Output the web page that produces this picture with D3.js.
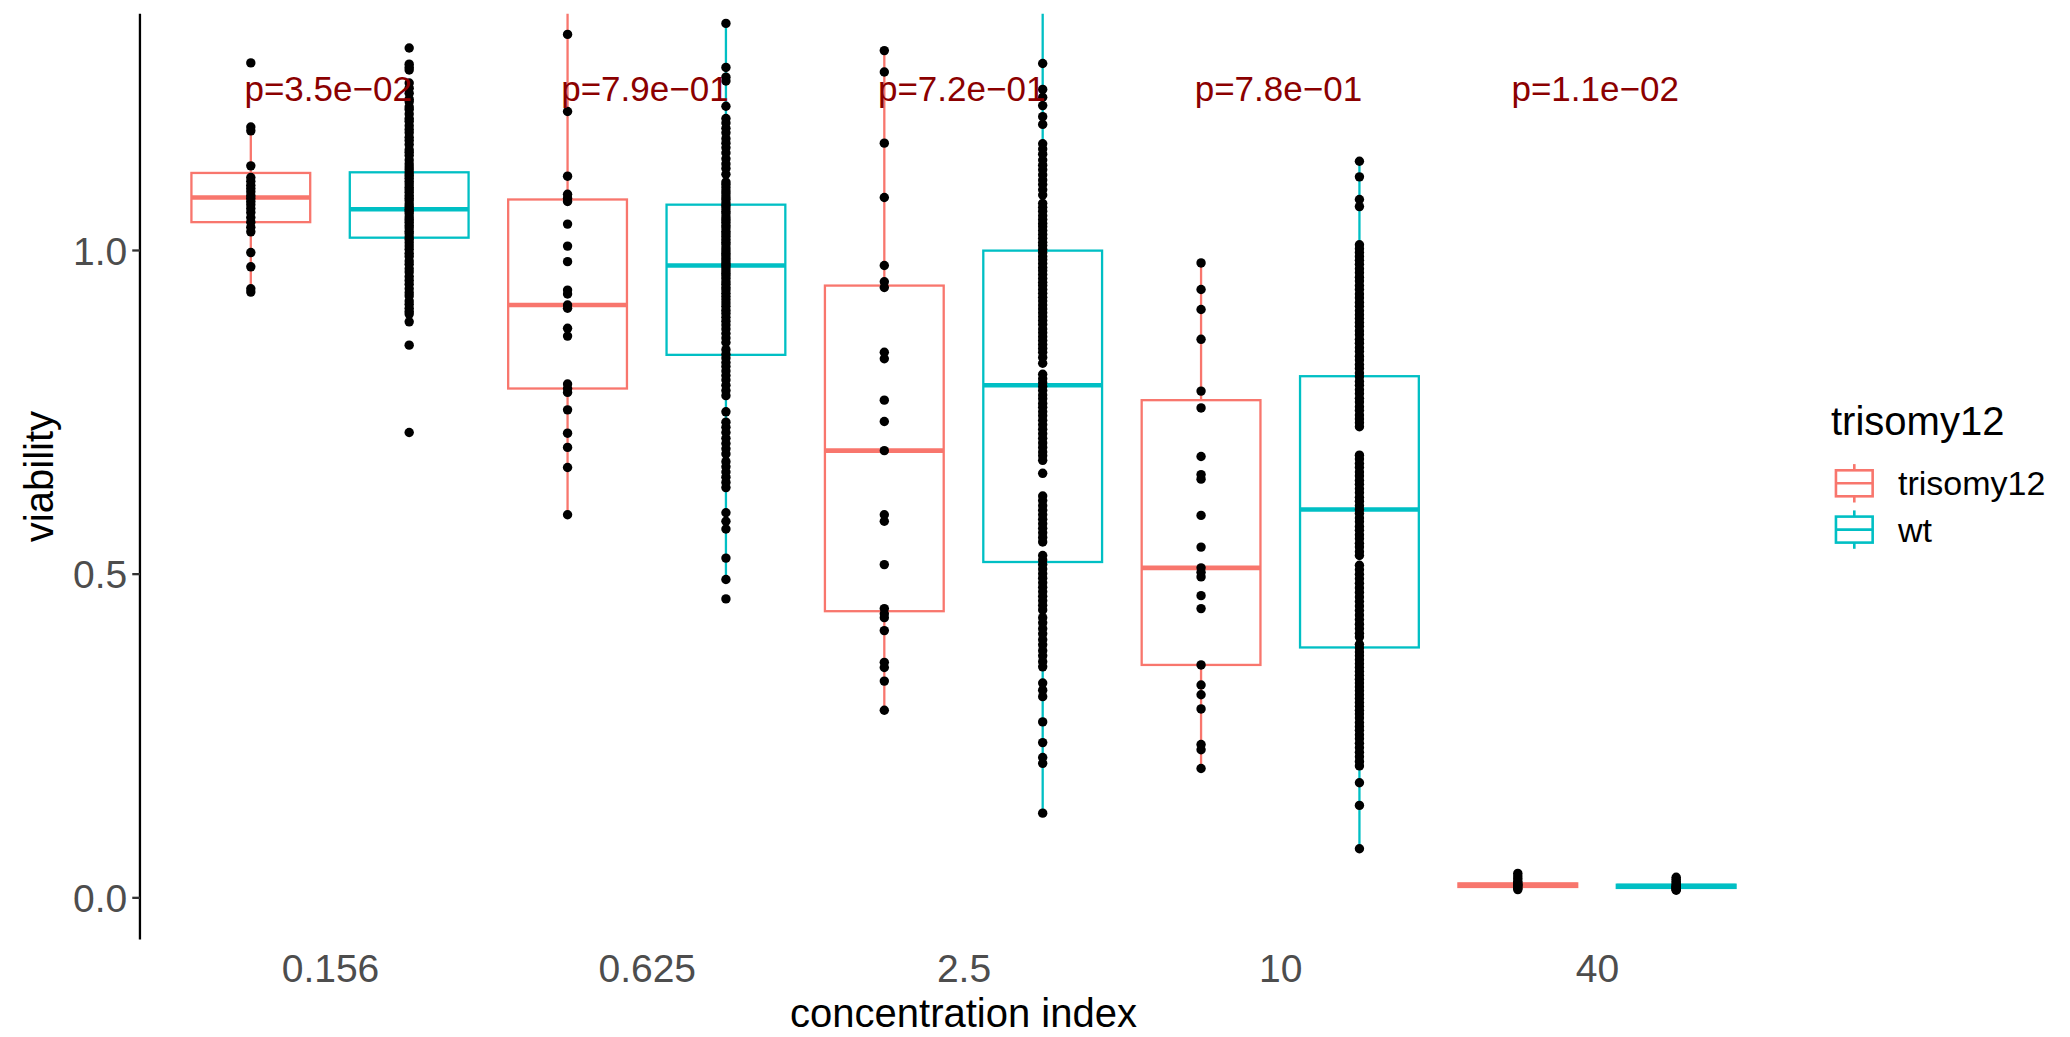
<!DOCTYPE html>
<html><head><meta charset="utf-8">
<script src="https://cdn.jsdelivr.net/npm/d3@7"></script>
<style>
body{margin:0;background:#fff;}
svg{display:block;font-family:"Liberation Sans",Arial,Helvetica,sans-serif;}
</style>
</head><body>
<svg id="chart" width="2070" height="1037"></svg>
<script>
// ---------------- data ----------------
const categories = ["0.156", "0.625", "2.5", "10", "40"];
const groups = ["trisomy12", "wt"];
const groupColors = ["#F8766D", "#00BFC4"];
const yTicks = [0.0, 0.5, 1.0];
const pLabels = ["p=3.5e\u221202", "p=7.9e\u221201", "p=7.2e\u221201", "p=7.8e\u221201", "p=1.1e\u221202"];
const pLabelY = 1.25;

// box statistics per category (trisomy12)
const triLow    = [0.935, 0.591, 0.289, 0.199, 0.014];
const triQ1     = [1.043, 0.786, 0.442, 0.359, 0.016];
const triMedian = [1.081, 0.915, 0.690, 0.509, 0.019];
const triQ3     = [1.119, 1.078, 0.945, 0.768, 0.0215];
const triHigh   = [1.190, 1.450, 1.308, 0.980, 0.025];
// box statistics per category (wt)
const wtLow     = [0.889, 0.491, 0.130, 0.075, 0.012];
const wtQ1      = [1.019, 0.838, 0.518, 0.386, 0.0145];
const wtMedian  = [1.063, 0.976, 0.791, 0.599, 0.0175];
const wtQ3      = [1.120, 1.070, 0.999, 0.805, 0.0195];
const wtHigh    = [1.258, 1.350, 1.400, 1.137, 0.022];

// observations
const triPts_0156 = [1.289, 1.190, 1.184, 1.130, 1.112, 1.106, 1.100, 1.095, 1.090, 1.084, 1.080, 1.075, 1.070,
  1.064, 1.058, 1.050, 1.043, 1.035, 1.028, 0.996, 0.974, 0.940, 0.935];
const wtPts_0156 = [1.312, 1.287, 1.282, 1.278, 1.258, 1.250, 1.242,
  1.233, 1.229, 1.221, 1.217, 1.210, 1.203, 1.199, 1.192, 1.186, 1.181, 1.174, 1.169, 1.163, 1.155, 1.151, 1.146,
  1.139, 1.133, 1.128, 1.124, 1.119, 1.115, 1.111, 1.106, 1.102, 1.097, 1.093, 1.089, 1.084, 1.080, 1.076, 1.071,
  1.067, 1.063, 1.060, 1.056, 1.051, 1.047, 1.043, 1.038, 1.034, 1.029, 1.025, 1.020, 1.016, 1.011, 1.006, 1.001,
  0.995, 0.990, 0.983, 0.978, 0.971, 0.966, 0.959, 0.953, 0.947, 0.940, 0.934, 0.929, 0.921, 0.916, 0.910, 0.905,
  0.901, 0.889, 0.853, 0.718];
const triPts_0625 = [1.450, 1.333, 1.214, 1.114, 1.086, 1.080, 1.075, 1.040, 1.006, 0.982, 0.938, 0.932, 0.915,
  0.910, 0.879, 0.867, 0.793, 0.786, 0.780, 0.753, 0.717, 0.695, 0.664, 0.591];
const wtPts_0625 = [1.350, 1.282, 1.267, 1.261, 1.222,
  1.203, 1.196, 1.188, 1.181, 1.172, 1.165, 1.158, 1.150, 1.141, 1.133, 1.126, 1.117,
  1.105, 1.101, 1.096, 1.091, 1.087, 1.082, 1.078, 1.073, 1.069, 1.065, 1.060, 1.056, 1.051, 1.047, 1.043, 1.038,
  1.034, 1.029, 1.025, 1.021, 1.016, 1.012, 1.008, 1.003, 0.999, 0.995, 0.991, 0.987, 0.983, 0.979, 0.976, 0.972,
  0.968, 0.964, 0.960, 0.956, 0.951, 0.947, 0.942, 0.938, 0.933, 0.928, 0.923, 0.918, 0.913, 0.907, 0.902, 0.896,
  0.890, 0.884, 0.878, 0.871, 0.864, 0.857,
  0.846, 0.839, 0.833, 0.826, 0.820, 0.813, 0.806, 0.799, 0.791, 0.783, 0.775, 0.750,
  0.734, 0.726, 0.718, 0.709, 0.701, 0.693, 0.685, 0.673, 0.665, 0.657, 0.649, 0.641, 0.633,
  0.594, 0.581, 0.569, 0.524, 0.491, 0.461];
const triPts_25 = [1.308, 1.275, 1.165, 1.081, 0.976, 0.951, 0.942, 0.842, 0.832, 0.768, 0.735, 0.690, 0.591,
  0.581, 0.514, 0.446, 0.438, 0.432, 0.412, 0.363, 0.355, 0.334, 0.289];
const wtPts_25 = [1.400, 1.288, 1.248, 1.236, 1.223, 1.206, 1.194, 1.164, 1.156, 1.148,
  1.139, 1.131, 1.124, 1.116, 1.108, 1.101, 1.093, 1.085,
  1.072, 1.066, 1.060, 1.053, 1.047, 1.041, 1.036, 1.030, 1.024, 1.018, 1.012, 1.007, 1.001, 0.996, 0.990, 0.985,
  0.979, 0.973, 0.968, 0.962, 0.956, 0.950, 0.945, 0.939, 0.933, 0.927, 0.921, 0.915, 0.909, 0.903, 0.897, 0.891,
  0.885, 0.878, 0.872, 0.866, 0.860, 0.854, 0.848, 0.842, 0.834, 0.825,
  0.808, 0.801, 0.795, 0.789, 0.783, 0.776, 0.770, 0.763, 0.757, 0.750, 0.744, 0.737, 0.730, 0.723, 0.716, 0.709,
  0.702, 0.695, 0.688, 0.682, 0.675, 0.655,
  0.620, 0.613, 0.605, 0.598, 0.591, 0.584, 0.577, 0.570, 0.563, 0.556, 0.549,
  0.528, 0.521, 0.514, 0.507, 0.500, 0.493, 0.486, 0.479, 0.472, 0.465, 0.458, 0.451, 0.444,
  0.432, 0.424, 0.415, 0.407, 0.398, 0.390, 0.381, 0.373, 0.364, 0.356,
  0.331, 0.320, 0.310, 0.271, 0.239, 0.216, 0.207, 0.130];
const triPts_10 = [0.980, 0.939, 0.908, 0.862, 0.782, 0.756, 0.681, 0.653, 0.646, 0.590, 0.541, 0.509, 0.502,
  0.495, 0.466, 0.446, 0.359, 0.328, 0.313, 0.291, 0.236, 0.228, 0.199];
const wtPts_10 = [1.137, 1.113, 1.078, 1.067,
  1.008, 1.002, 0.996, 0.990, 0.984, 0.978, 0.971, 0.965, 0.958, 0.952, 0.945, 0.939, 0.932, 0.926, 0.919, 0.913,
  0.906, 0.900, 0.894, 0.888, 0.882,
  0.875, 0.869, 0.862, 0.856, 0.849, 0.843, 0.836, 0.830, 0.823, 0.817, 0.810, 0.804, 0.797, 0.791, 0.784, 0.778,
  0.771, 0.765, 0.758, 0.752, 0.745, 0.739, 0.733, 0.727,
  0.683, 0.677, 0.670, 0.664, 0.657, 0.651, 0.644, 0.638, 0.631, 0.625, 0.618, 0.612, 0.605, 0.599, 0.593, 0.586,
  0.580, 0.573, 0.567, 0.560, 0.554, 0.547, 0.541, 0.534, 0.528,
  0.513, 0.506, 0.499, 0.492, 0.485, 0.478, 0.471, 0.464, 0.457, 0.450, 0.443, 0.436, 0.429, 0.422, 0.415, 0.408, 0.402,
  0.391, 0.385, 0.379, 0.373, 0.367, 0.361, 0.355, 0.349, 0.343, 0.337, 0.331, 0.325, 0.319, 0.313, 0.307, 0.301,
  0.295, 0.289, 0.283, 0.277, 0.270, 0.264, 0.258, 0.251, 0.245, 0.238, 0.231, 0.224, 0.217, 0.210, 0.203,
  0.177, 0.142, 0.075];
const triPts_40 = [0.037, 0.033, 0.029, 0.025, 0.022, 0.020, 0.019, 0.018, 0.016, 0.014, 0.012];
const wtPts_40 = [0.031, 0.028, 0.025, 0.022, 0.020, 0.018, 0.017, 0.016, 0.015, 0.014, 0.013, 0.012, 0.011];

// ---------------- assemble ----------------
const triPoints = [triPts_0156, triPts_0625, triPts_25, triPts_10, triPts_40];
const wtPoints = [wtPts_0156, wtPts_0625, wtPts_25, wtPts_10, wtPts_40];
const stats = {
  trisomy12: {low: triLow, q1: triQ1, med: triMedian, q3: triQ3, high: triHigh, pts: triPoints},
  wt: {low: wtLow, q1: wtQ1, med: wtMedian, q3: wtQ3, high: wtHigh, pts: wtPoints}
};
const boxes = [];
categories.forEach((c, i) => groups.forEach(g => {
  const s = stats[g];
  boxes.push({cat: c, group: g, low: s.low[i], q1: s.q1[i], med: s.med[i], q3: s.q3[i], high: s.high[i], pts: s.pts[i]});
}));

// ---------------- layout ----------------
const svg = d3.select("#chart");
svg.append("rect").attr("width", 2070).attr("height", 1037).attr("fill", "#fff");

const x = d3.scalePoint().domain(categories).range([330, 1597]);
const step = x.step();
const panelL = x(categories[0]) - 0.6 * step;
const panelR = x(categories[categories.length - 1]) + 0.6 * step;
const y = d3.scaleLinear().domain([-0.065, 1.365]).range([939.4, 13.7]);
const panelT = y.range()[1], panelB = y.range()[0];
const dodge = d3.scaleBand().domain(groups).range([-0.5 * step, 0.5 * step]);
const color = d3.scaleOrdinal().domain(groups).range(groupColors);
const boxW = dodge.bandwidth() * 0.75;
const cx = d => x(d.cat) + dodge(d.group) + dodge.bandwidth() / 2;

svg.append("clipPath").attr("id", "panelClip")
  .append("rect").attr("x", panelL).attr("y", panelT).attr("width", panelR - panelL).attr("height", panelB - panelT);

const panel = svg.append("g").attr("clip-path", "url(#panelClip)");
const LW = 2.3;

const bx = panel.selectAll("g.box").data(boxes).join("g").attr("class", "box");
// whiskers
bx.append("line").attr("x1", cx).attr("x2", cx).attr("y1", d => y(d.q3)).attr("y2", d => y(d.high))
  .attr("stroke", d => color(d.group)).attr("stroke-width", LW);
bx.append("line").attr("x1", cx).attr("x2", cx).attr("y1", d => y(d.q1)).attr("y2", d => y(d.low))
  .attr("stroke", d => color(d.group)).attr("stroke-width", LW);
// box
bx.append("rect").attr("x", d => cx(d) - boxW / 2).attr("width", boxW)
  .attr("y", d => y(d.q3)).attr("height", d => y(d.q1) - y(d.q3))
  .attr("fill", "#fff").attr("stroke", d => color(d.group)).attr("stroke-width", LW);
// median
bx.append("line").attr("x1", d => cx(d) - boxW / 2).attr("x2", d => cx(d) + boxW / 2)
  .attr("y1", d => y(d.med)).attr("y2", d => y(d.med))
  .attr("stroke", d => color(d.group)).attr("stroke-width", LW * 2);

// points
boxes.forEach(b => {
  panel.append("g").selectAll("circle").data(b.pts).join("circle")
    .attr("cx", cx(b)).attr("cy", v => y(v)).attr("r", 4.7).attr("fill", "#000");
});

// p-value labels
panel.append("g").selectAll("text").data(categories).join("text")
  .attr("x", c => x(c) - 0.27 * step).attr("y", y(pLabelY)).attr("dy", "0.38em")
  .attr("fill", "#8B0000").attr("font-size", 35).text((c, i) => pLabels[i]);

// y axis
const yAxis = svg.append("g").attr("transform", `translate(${panelL},0)`)
  .call(d3.axisLeft(y).tickValues(yTicks).tickFormat(d3.format(".1f")).tickSize(7.7).tickSizeOuter(0).tickPadding(5));
yAxis.select(".domain").attr("stroke", "#000").attr("stroke-width", LW).attr("d", `M0,${panelT}V${panelB}`);
yAxis.selectAll(".tick line").attr("stroke", "#333").attr("stroke-width", LW);
yAxis.selectAll(".tick text").attr("fill", "#4D4D4D").attr("font-size", 39).attr("dy", "0.36em");
yAxis.attr("font-family", null);

// x axis (labels only)
const xAxis = svg.append("g").attr("transform", `translate(0,${panelB})`)
  .call(d3.axisBottom(x).tickSize(0).tickPadding(15));
xAxis.select(".domain").remove();
xAxis.selectAll(".tick text").attr("fill", "#4D4D4D").attr("font-size", 39);
xAxis.attr("font-family", null);

// axis titles
svg.append("text").attr("x", (panelL + panelR) / 2).attr("y", 1026.5).attr("text-anchor", "middle")
  .attr("font-size", 40).attr("fill", "#000").text("concentration index");
svg.append("text").attr("transform", `translate(53,${(panelT + panelB) / 2}) rotate(-90)`)
  .attr("text-anchor", "middle").attr("font-size", 40).attr("fill", "#000").text("viability");

// legend
const legend = svg.append("g");
legend.append("text").attr("x", 1831).attr("y", 435).attr("font-size", 40).attr("fill", "#000").text("trisomy12");
const keyCx = 1854.3, keyW = 36.7, keyH = 26, whiskH = 38.4, keyStep = 46.3, key0 = 483.3;
const keys = legend.selectAll("g.key").data(groups).join("g").attr("class", "key")
  .attr("transform", (g, i) => `translate(0,${key0 + i * keyStep})`);
keys.append("line").attr("x1", keyCx).attr("x2", keyCx).attr("y1", -whiskH / 2).attr("y2", whiskH / 2)
  .attr("stroke", g => color(g)).attr("stroke-width", 2.6);
keys.append("rect").attr("x", keyCx - keyW / 2).attr("y", -keyH / 2).attr("width", keyW).attr("height", keyH)
  .attr("fill", "#fff").attr("stroke", g => color(g)).attr("stroke-width", 2.6);
keys.append("line").attr("x1", keyCx - keyW / 2).attr("x2", keyCx + keyW / 2).attr("y1", 0).attr("y2", 0)
  .attr("stroke", g => color(g)).attr("stroke-width", 2.6);
keys.append("text").attr("x", 1898).attr("y", 12).attr("font-size", 34).attr("fill", "#000").text(g => g);
</script>
</body></html>
